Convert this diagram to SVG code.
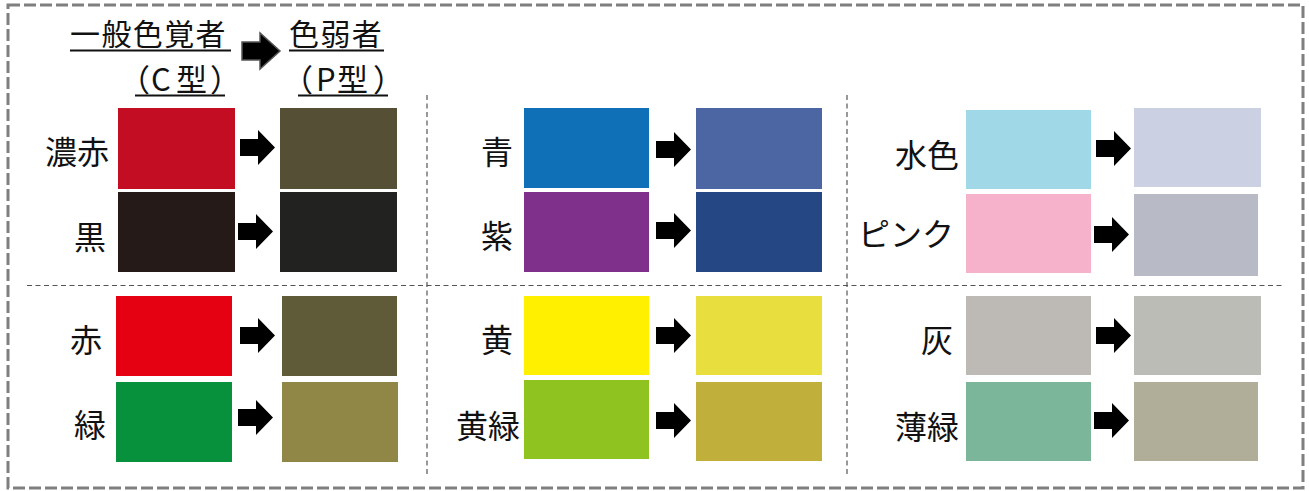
<svg xmlns="http://www.w3.org/2000/svg" xmlns:xlink="http://www.w3.org/1999/xlink" width="1309" height="491" viewBox="0 0 1309 491">
<style>
text{font-family:"Noto Sans CJK JP","Noto Sans",sans-serif;fill:#111}
.lbl{font-size:32px;text-anchor:end}
.hdr{font-size:30px}
.hdr2{font-size:31px}
.ul{stroke:#111;stroke-width:2}
.sep{stroke:#555;stroke-width:1.2;stroke-dasharray:5 3.5;fill:none}
</style>
<defs>
<path id="arr" d="M0,9 H18 V0 L35,17.5 L18,35 V26 H0 Z" fill="#000"/>
</defs>
<rect id="frame" x="8" y="5" width="1295" height="483" fill="none" stroke="#7f7f7f" stroke-width="3" stroke-dasharray="12 4"/>
<g id="separators">
<line class="sep" x1="27" y1="285.5" x2="1283" y2="285.5"/>
<line class="sep" x1="427" y1="95" x2="427" y2="475"/>
<line class="sep" x1="847" y1="95" x2="847" y2="475"/>
</g>
<g id="header">
<text class="hdr" x="70" y="45" letter-spacing="1.4">一般色覚者</text>
<line class="ul" x1="70" y1="50.5" x2="231" y2="50.5"/>
<text class="hdr2" x="119 151 176 210" y="91">（C型）</text>
<line class="ul" x1="135" y1="95.5" x2="225" y2="95.5"/>
<path d="M242,42 H260 V33 L280,51 L260,69 V60 H242 Z" fill="#000" stroke="#555" stroke-width="1.5"/>
<text class="hdr" x="289" y="45" letter-spacing="1.4">色弱者</text>
<line class="ul" x1="289" y1="50.5" x2="384" y2="50.5"/>
<text class="hdr2" x="282 316 337 373" y="91">（P型）</text>
<line class="ul" x1="298" y1="95.5" x2="388" y2="95.5"/>
</g>
<g id="row-koaka"><text class="lbl" x="109" y="164">濃赤</text><rect x="118" y="108" width="117" height="81" fill="#C30D23"/><rect x="280" y="108" width="117" height="81" fill="#554F36"/></g>
<g id="row-kuro"><text class="lbl" x="106" y="249">黒</text><rect x="118" y="192" width="117" height="80" fill="#251A17"/><rect x="280" y="192" width="117" height="80" fill="#222220"/></g>
<g id="row-aka"><text class="lbl" x="102" y="352">赤</text><rect x="116" y="296" width="116" height="80" fill="#E50012"/><rect x="282" y="296" width="115" height="80" fill="#5F5A37"/></g>
<g id="row-midori"><text class="lbl" x="106" y="437">緑</text><rect x="116" y="382" width="116" height="80" fill="#07913D"/><rect x="282" y="382" width="116" height="80" fill="#908646"/></g>
<g id="row-ao"><text class="lbl" x="513" y="164">青</text><rect x="524" y="108" width="125" height="80" fill="#0F6FB7"/><rect x="696" y="108" width="126" height="81" fill="#4C66A3"/></g>
<g id="row-murasaki"><text class="lbl" x="513" y="248">紫</text><rect x="524" y="192" width="125" height="80" fill="#7E308A"/><rect x="696" y="192" width="126" height="80" fill="#254783"/></g>
<g id="row-ki"><text class="lbl" x="513" y="352">黄</text><rect x="524" y="296" width="125" height="79" fill="#FFF000"/><rect x="696" y="296" width="126" height="79" fill="#E8DF3E"/></g>
<g id="row-kimidori"><text class="lbl" x="520" y="438">黄緑</text><rect x="524" y="380" width="125" height="79" fill="#8FC31F"/><rect x="696" y="382" width="126" height="79" fill="#C0B03B"/></g>
<g id="row-mizuiro"><text class="lbl" x="959" y="167">水色</text><rect x="966" y="110" width="125" height="79" fill="#A0D8E8"/><rect x="1134" y="108" width="127" height="79" fill="#CBD0E3"/></g>
<g id="row-pink"><text class="lbl" x="954" y="246">ピンク</text><rect x="966" y="194" width="125" height="79" fill="#F5B2CA"/><rect x="1134" y="194" width="124" height="82" fill="#B8BAC6"/></g>
<g id="row-hai"><text class="lbl" x="953" y="352">灰</text><rect x="966" y="296" width="125" height="79" fill="#BDBAB6"/><rect x="1134" y="296" width="127" height="79" fill="#BBBCB5"/></g>
<g id="row-usumidori"><text class="lbl" x="959" y="439">薄緑</text><rect x="966" y="382" width="125" height="79" fill="#7BB69A"/><rect x="1134" y="382" width="124" height="79" fill="#B0AE98"/></g>
<g id="connectors">
<use href="#arr" x="240" y="130"/><use href="#arr" x="238" y="214"/><use href="#arr" x="240" y="318"/><use href="#arr" x="238" y="400"/>
<use href="#arr" x="656" y="132"/><use href="#arr" x="656" y="213"/><use href="#arr" x="656" y="318"/><use href="#arr" x="656" y="403"/>
<use href="#arr" x="1096" y="131"/><use href="#arr" x="1094" y="217"/><use href="#arr" x="1096" y="318"/><use href="#arr" x="1094" y="403"/>
</g>
</svg>
